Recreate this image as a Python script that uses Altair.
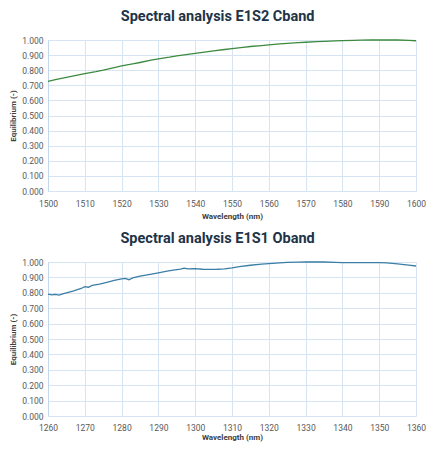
import altair as alt
import pandas as pd

# Top chart: E1S2 C band
c_wl = [1500, 1502, 1505, 1508, 1510, 1513, 1515, 1518, 1520, 1523, 1525, 1528, 1530,
        1533, 1535, 1538, 1540, 1543, 1545, 1548, 1550, 1553, 1555, 1558, 1560, 1563,
        1565, 1568, 1570, 1573, 1575, 1578, 1580, 1583, 1585, 1588, 1590, 1593, 1595,
        1598, 1600]
c_eq = [0.726, 0.737, 0.752, 0.767, 0.777, 0.790, 0.800, 0.817, 0.828, 0.842, 0.851, 0.866, 0.875,
        0.886, 0.895, 0.905, 0.912, 0.922, 0.928, 0.937, 0.943, 0.951, 0.957, 0.963, 0.968, 0.974,
        0.978, 0.982, 0.985, 0.989, 0.991, 0.994, 0.996, 0.998, 0.999, 1.000, 1.000, 1.000, 1.000,
        0.997, 0.995]

# Bottom chart: E1S1 O band
o_wl = [1260, 1261, 1262, 1263, 1264, 1265, 1267, 1269, 1270, 1271, 1272, 1274, 1276, 1278,
        1280, 1281, 1282, 1283, 1285, 1287, 1290, 1292, 1294, 1296, 1297, 1298, 1300, 1302,
        1304, 1306, 1308, 1310, 1312, 1315, 1318, 1320, 1323, 1325, 1328, 1330, 1333, 1335,
        1338, 1340, 1343, 1345, 1348, 1350, 1352, 1355, 1358, 1360]
o_eq = [0.792, 0.786, 0.790, 0.785, 0.793, 0.800, 0.812, 0.828, 0.840, 0.836, 0.848, 0.857, 0.868, 0.880,
        0.890, 0.893, 0.885, 0.897, 0.908, 0.917, 0.930, 0.939, 0.947, 0.954, 0.960, 0.955, 0.957, 0.953,
        0.952, 0.953, 0.956, 0.962, 0.970, 0.979, 0.986, 0.990, 0.994, 0.997, 0.999, 1.000, 1.000, 1.000,
        0.998, 0.996, 0.996, 0.996, 0.996, 0.996, 0.994, 0.988, 0.980, 0.974]

y_ticks = [round(i * 0.1, 1) for i in range(11)]
c_ticks = list(range(1500, 1601, 10))
o_ticks = list(range(1260, 1361, 10))

grid_col = "#d7e4f4"
font = "Roboto"


def panel(wl, eq, ticks, color, title, h, lpad, tpad):
    df = pd.DataFrame({"wl": wl, "eq": eq})
    return alt.Chart(df, title=alt.TitleParams(
        title, fontSize=14.5, font=font, fontWeight="bold", color="#203347",
        anchor="middle", frame="bounds", offset=12)).mark_line(
        color=color, strokeWidth=1.3).encode(
        x=alt.X("wl:Q", scale=alt.Scale(domain=[ticks[0], ticks[-1]], nice=False),
                axis=alt.Axis(values=ticks, title="Wavelength (nm)", format="d",
                              grid=True, ticks=False, domain=False, labelPadding=lpad,
                              titlePadding=tpad)),
        y=alt.Y("eq:Q", scale=alt.Scale(domain=[0, 1], nice=False),
                axis=alt.Axis(values=y_ticks, format=".3f", title="Equilibrium (-)",
                              grid=True, ticks=False, domain=True, labelPadding=5,
                              titlePadding=4)),
    ).properties(width=368, height=h)


top = panel(c_wl, c_eq, c_ticks, "#3d8a3f", "Spectral analysis E1S2 Cband", 151, 8, 5)
bot = panel(o_wl, o_eq, o_ticks, "#3a7ea6", "Spectral analysis E1S1 Oband", 154, 7, 2)

chart = alt.vconcat(top, bot, spacing=9).properties(
    padding={"left": 1, "top": 0, "right": 0, "bottom": 0}
).configure_view(stroke=None).configure_axis(
    gridColor=grid_col, gridWidth=1, domainColor="#c3d6ef",
    labelFont=font, labelFontSize=8.5, labelColor="#595959",
    titleFont=font, titleFontSize=8, titleFontWeight="bold", titleColor="#404040",
).configure_axisX(labelFlush=False).configure_axisY(labelFlush=False)

chart.save("out.html", embed_options={"renderer": "svg", "actions": False})
